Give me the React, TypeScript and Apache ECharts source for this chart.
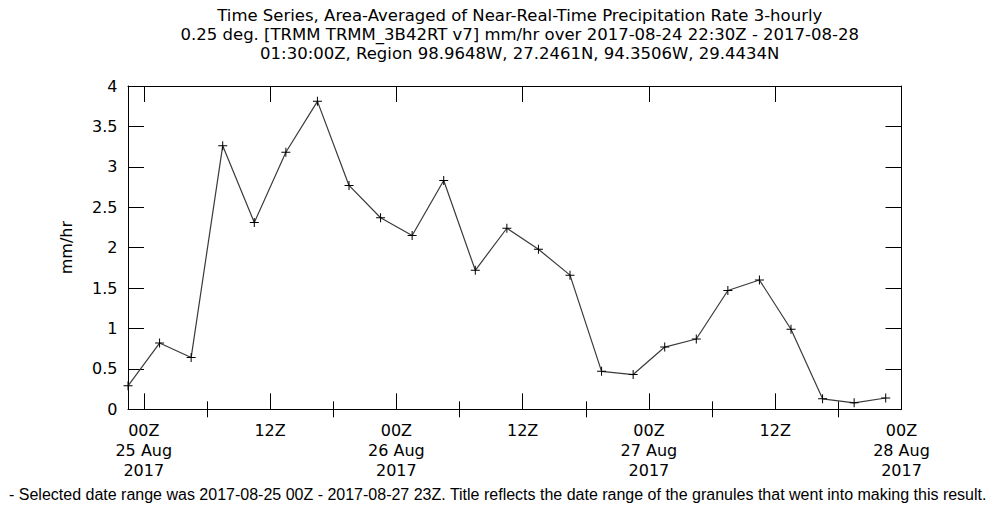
import React, { useEffect, useRef } from "react";
import * as echarts from "echarts";

// Hours relative to 2017-08-25 00Z (granule centre times, 3-hourly)
const hours = [
  -1.5, 1.5, 4.5, 7.5, 10.5, 13.5, 16.5, 19.5, 22.5,
  25.5, 28.5, 31.5, 34.5, 37.5, 40.5, 43.5, 46.5,
  49.5, 52.5, 55.5, 58.5, 61.5, 64.5, 67.5, 70.5,
];
// Area-averaged precipitation rate, mm/hr
const precip = [
  0.29, 0.82, 0.64, 3.26, 2.31, 3.18, 3.81, 2.77, 2.37,
  2.15, 2.83, 1.72, 2.24, 1.98, 1.66, 0.47, 0.43,
  0.77, 0.87, 1.47, 1.60, 0.99, 0.13, 0.08, 0.14,
];

const majorTickHours = [0, 12, 24, 36, 48, 60, 72];
const majorTickLabels = [
  "00Z\n25 Aug\n2017",
  "12Z",
  "00Z\n26 Aug\n2017",
  "12Z",
  "00Z\n27 Aug\n2017",
  "12Z",
  "00Z\n28 Aug\n2017",
];
const minorTickHours = [6, 18, 30, 42, 54, 66];

const titleText =
  "Time Series, Area-Averaged of Near-Real-Time Precipitation Rate 3-hourly\n" +
  "0.25 deg. [TRMM TRMM_3B42RT v7] mm/hr over 2017-08-24 22:30Z - 2017-08-28\n" +
  "01:30:00Z, Region 98.9648W, 27.2461N, 94.3506W, 29.4434N";
const footerText =
  "- Selected date range was 2017-08-25 00Z - 2017-08-27 23Z. Title reflects the date range of the granules that went into making this result.";

const PLUS = "path://M4,0h1v4h4v1h-4v4h-1v-4h-4v-1h4z";

export default function App() {
  const ref = useRef<HTMLDivElement>(null);
  useEffect(() => {
    if (!ref.current) return;
    const chart = echarts.init(ref.current, null, { renderer: "svg" });
    const font = "DejaVu Sans";
    const xBase = {
      type: "value",
      min: -1.5,
      max: 72,
      splitLine: { show: false },
    };
    chart.setOption({
      animation: false,
      backgroundColor: "#ffffff",
      title: {
        text: titleText,
        left: 514.75,
        top: 1,
        textAlign: "center",
        textStyle: {
          fontFamily: font,
          fontSize: 16.5,
          fontWeight: "normal",
          color: "#000",
          lineHeight: 19,
        },
      },
      graphic: [
        {
          type: "text",
          left: 9,
          top: 486,
          style: {
            text: footerText,
            font: "16px 'Liberation Sans'",
            fill: "#000",
          },
        },
      ],
      grid: { left: 128, right: 91.5, top: 86, bottom: 98.7 },
      xAxis: [
        {
          ...xBase,
          position: "bottom",
          axisLine: { show: true, onZero: false, lineStyle: { color: "#000", width: 1 } },
          axisTick: {
            show: true,
            inside: true,
            length: 16,
            customValues: majorTickHours,
            lineStyle: { color: "#000", width: 1 },
          },
          axisLabel: {
            show: true,
            customValues: majorTickHours,
            margin: 11,
            fontFamily: font,
            fontSize: 16,
            lineHeight: 20,
            color: "#000",
            formatter: (v: number) => {
              const i = majorTickHours.indexOf(Math.round(v));
              return i >= 0 ? majorTickLabels[i] : "";
            },
          },
        },
        {
          ...xBase,
          position: "bottom",
          axisLine: { show: false },
          axisTick: {
            show: true,
            inside: true,
            length: 8,
            customValues: minorTickHours,
            lineStyle: { color: "#000", width: 1 },
          },
          axisLabel: { show: false },
        },
        {
          ...xBase,
          position: "top",
          axisLine: { show: true, onZero: false, lineStyle: { color: "#000", width: 1 } },
          axisTick: {
            show: true,
            inside: true,
            length: 16,
            customValues: majorTickHours,
            lineStyle: { color: "#000", width: 1 },
          },
          axisLabel: { show: false },
        },
        {
          ...xBase,
          position: "top",
          axisLine: { show: false },
          axisTick: {
            show: true,
            inside: true,
            length: 8,
            customValues: minorTickHours,
            lineStyle: { color: "#000", width: 1 },
          },
          axisLabel: { show: false },
        },
      ],
      yAxis: [
        {
          type: "value",
          min: 0,
          max: 4,
          interval: 0.5,
          position: "left",
          name: "mm/hr",
          nameLocation: "middle",
          nameRotate: 90,
          nameGap: 54,
          nameTextStyle: { fontFamily: font, fontSize: 16, color: "#000" },
          splitLine: { show: false },
          axisLine: { show: true, onZero: false, lineStyle: { color: "#000", width: 1 } },
          axisTick: { show: true, inside: true, length: 16, lineStyle: { color: "#000", width: 1 } },
          axisLabel: {
            margin: 10.5,
            fontFamily: font,
            fontSize: 16,
            color: "#000",
            formatter: (v: number) => String(v),
          },
        },
        {
          type: "value",
          min: 0,
          max: 4,
          interval: 0.5,
          position: "right",
          splitLine: { show: false },
          axisLine: { show: true, onZero: false, lineStyle: { color: "#000", width: 1 } },
          axisTick: { show: true, inside: true, length: 16, lineStyle: { color: "#000", width: 1 } },
          axisLabel: { show: false },
        },
      ],
      series: [
        {
          type: "line",
          xAxisIndex: 0,
          yAxisIndex: 0,
          data: hours.map((h, i) => [h, precip[i]]),
          symbol: PLUS,
          symbolSize: 9,
          showAllSymbol: true,
          clip: false,
          lineStyle: { color: "#3a3a3a", width: 1.2 },
          itemStyle: { color: "#000", borderWidth: 0 },
          emphasis: { disabled: true },
        },
      ],
    });
    return () => chart.dispose();
  }, []);
  return (
    <div
      ref={ref}
      style={{ position: "fixed", left: 0, top: 0, width: 993, height: 508 }}
    />
  );
}
